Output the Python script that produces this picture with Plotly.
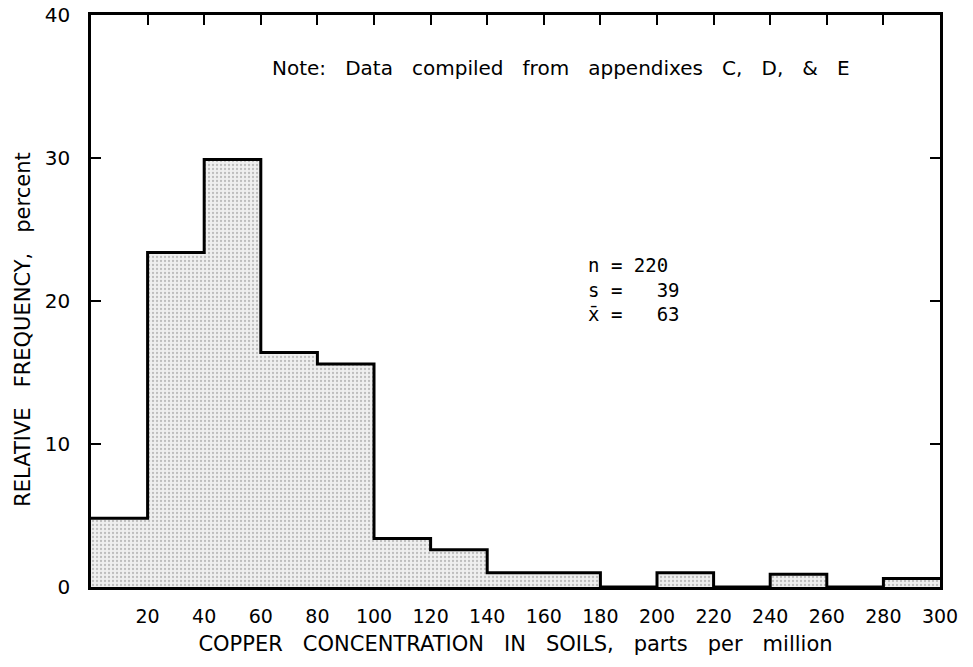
import plotly.graph_objects as go

# Data
bin_left = [0, 20, 40, 60, 80, 100, 120, 140, 160, 180, 200, 220, 240, 260, 280]
bin_width = 20
rel_freq = [4.8, 23.4, 29.9, 16.4, 15.6, 3.4, 2.6, 1.0, 1.0, 0.0, 1.0, 0.0, 0.9, 0.0, 0.6]
x_ticks = [20, 40, 60, 80, 100, 120, 140, 160, 180, 200, 220, 240, 260, 280, 300]
y_ticks = [0, 10, 20, 30, 40]

FONT = "DejaVu Sans"

centers = [b + bin_width / 2 for b in bin_left]
step_x = bin_left + [bin_left[-1] + bin_width]
step_y = rel_freq + [rel_freq[-1]]

fig = go.Figure()
fig.add_trace(go.Bar(
    x=centers, y=rel_freq, width=[bin_width] * len(bin_left),
    marker=dict(
        color="#eeeeee",
        line=dict(width=0),
        pattern=dict(shape=".", fgcolor="#8a8a8a", bgcolor="#efefef", size=4, solidity=0.25),
    ),
    hoverinfo="skip", showlegend=False,
))
fig.add_trace(go.Scatter(
    x=step_x, y=step_y, mode="lines", line=dict(shape="hv", color="black", width=3),
    hoverinfo="skip", showlegend=False,
))
# invisible trace to activate top axis
fig.add_trace(go.Scatter(x=[0, 300], y=[0, 0], xaxis="x2", mode="lines",
                         line=dict(width=0), hoverinfo="skip", showlegend=False))

NB = "\u00a0"

fig.update_layout(
    width=973, height=667,
    margin=dict(l=91, r=33, t=15, b=80),
    paper_bgcolor="white", plot_bgcolor="white",
    bargap=0,
    font=dict(family=FONT, color="black"),
    xaxis=dict(
        range=[0, 300], tickmode="array", tickvals=x_ticks,
        ticktext=[str(v) for v in x_ticks],
        ticks="", showgrid=False, zeroline=False, automargin=False,
        showline=True, linecolor="black", linewidth=2.5,
        tickfont=dict(size=19, family=FONT), ticklabelstandoff=10,
        title=dict(text=(NB * 3).join(["COPPER", "CONCENTRATION", "IN", "SOILS,", "parts", "per", "million"]),
                   font=dict(size=21, family=FONT), standoff=11),
    ),
    xaxis2=dict(
        range=[0, 300], overlaying="x", side="top", anchor="y", automargin=False,
        tickmode="array", tickvals=x_ticks, ticks="inside", ticklen=10,
        tickwidth=2, tickcolor="black", showticklabels=False,
        showgrid=False, zeroline=False, showline=True, linecolor="black", linewidth=2.5,
    ),
    yaxis=dict(
        range=[0, 40], tickmode="array", tickvals=y_ticks, automargin=False,
        ticks="inside", ticklen=10, tickwidth=2, tickcolor="black",
        mirror="ticks", showgrid=False, zeroline=False,
        showline=True, linecolor="black", linewidth=2.5,
        tickfont=dict(size=20, family=FONT), ticklabelstandoff=14,
    ),
    annotations=[
        dict(text=(NB * 3).join(["RELATIVE", "FREQUENCY,", "percent"]),
             xref="paper", yref="paper", x=-0.081, y=0.45, textangle=-90,
             xanchor="center", yanchor="middle", showarrow=False,
             font=dict(size=21, family=FONT)),
        dict(text=(NB * 3).join(["Note:", "Data", "compiled", "from", "appendixes", "C,", "D,", "&", "E"]),
             xref="x", yref="y", x=166, y=36.3, showarrow=False,
             font=dict(size=20, family=FONT)),
        dict(text="n = 220<br>s =   39<br>x\u0304 =   63",
             xref="x", yref="y", x=175, y=20.8, xanchor="left", yanchor="middle",
             align="left", showarrow=False,
             font=dict(size=19, family="DejaVu Sans Mono")),
    ],
)

fig.write_html("out.html")
